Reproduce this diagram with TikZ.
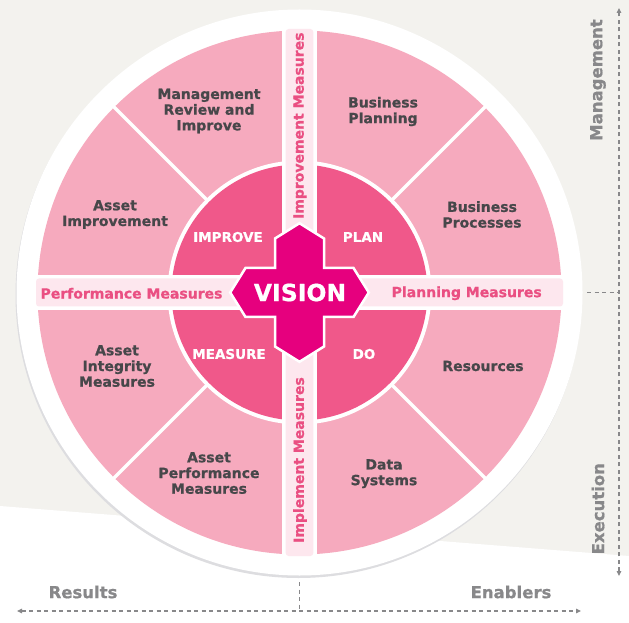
\documentclass[tikz,border=0pt]{standalone}
\usepackage{fontspec}
\setmainfont{DejaVu Sans}[BoldFont={DejaVu Sans Bold}, BoldFeatures={FakeBold=0.8}]
\usetikzlibrary{arrows.meta}
\definecolor{bggrey}{HTML}{F3F2EE}
\definecolor{shadowgrey}{HTML}{DDDDE0}
\definecolor{outerpink}{HTML}{F6AABE}
\definecolor{innerpink}{HTML}{F0588A}
\definecolor{crossmag}{HTML}{E6007E}
\definecolor{strippink}{HTML}{FDE7EE}
\definecolor{stripink}{HTML}{EA4F82}
\definecolor{darktext}{HTML}{47474A}
\definecolor{axisgrey}{HTML}{88888A}
\begin{document}
\begin{tikzpicture}[x=1pt,y=1pt,
  sector/.style={font=\bfseries\fontsize{14}{15.7}\selectfont, text=darktext, align=center, inner sep=0pt},
  quad/.style={font=\bfseries\fontsize{13.5}{15}\selectfont, text=white, inner sep=0pt},
  striptext/.style={font=\bfseries\fontsize{14}{16}\selectfont, text=stripink, inner sep=0pt},
  axislabel/.style={font=\bfseries\fontsize{16.5}{18}\selectfont, text=axisgrey, inner sep=0pt},
  dashline/.style={draw=axisgrey, line width=1.1pt, dash pattern=on 4pt off 3.5pt},
  tipboth/.style={{Triangle[length=5pt,width=4.5pt]}-{Triangle[length=5pt,width=4.5pt]}}
]
\useasboundingbox (0,0) rectangle (629,622);
\fill[bggrey] (0,0) rectangle (629,622);
\fill[white] (0,0) -- (629,0) -- (629,66) -- (0,116) -- cycle;
\coordinate (C) at (299.5,329.5);
% wheel
\fill[shadowgrey] ([shift={(-1,-2.5)}]C) circle (283);
\fill[white] (C) circle (283);
\fill[outerpink] (C) circle (262);
\foreach \a in {45,135,225,315}
  \draw[white, line width=3.5pt] ([shift={(\a:120)}]C) -- ([shift={(\a:266)}]C);
\fill[white] (C) circle (132);
\fill[innerpink] (C) circle (128);
\fill[white] ([shift={(-17.5,-266)}]C) rectangle ([shift={(17.5,266)}]C);
\fill[white] ([shift={(-266,-17.5)}]C) rectangle ([shift={(266,17.5)}]C);
\fill[strippink, rounded corners=3pt] ([shift={(-13.8,-263.5)}]C) rectangle ([shift={(13.8,263.5)}]C);
\fill[strippink, rounded corners=3pt] ([shift={(-263.5,-14)}]C) rectangle ([shift={(263.5,14)}]C);
% cross
\begin{scope}[shift={(C)}]
\filldraw[fill=crossmag, draw=white, line width=2.5pt, line join=miter]
  (0,69.3) -- (24.5,54) -- (24.5,24.5) -- (54,24.5) -- (69.3,0) -- (54,-24.5) -- (24.5,-24.5)
  -- (24.5,-54) -- (0,-69.3) -- (-24.5,-54) -- (-24.5,-24.5) -- (-54,-24.5) -- (-69.3,0)
  -- (-54,24.5) -- (-24.5,24.5) -- (-24.5,54) -- cycle;
\end{scope}
\node[font=\bfseries\fontsize{23.5}{26}\selectfont, text=white, inner sep=0pt] (vision) at (300,329.5) {VISION};
% quadrant labels
\node[quad] (improve) at (228,385) {IMPROVE};
\node[quad] (plan) at (363,385) {PLAN};
\node[quad] (measure) at (229,268) {MEASURE};
\node[quad] (do) at (364,268) {DO};
% sector labels
\node[sector] (mri) at (209,511) {Management\\Review and\\Improve};
\node[sector] (ai) at (115,407.5) {Asset\\Improvement};
\node[sector] (bpl) at (383,510.5) {Business\\Planning};
\node[sector] (bpr) at (482,407.5) {Business\\Processes};
\node[sector] (res) at (483,256) {Resources};
\node[sector] (ds) at (384,148.3) {Data\\Systems};
\node[sector] (aim) at (117,256) {Asset\\Integrity\\Measures};
\node[sector] (apm) at (209,149) {Asset\\Performance\\Measures};
% strip labels
\node[striptext] (perf) at (131.5,328.7) {Performance Measures};
\node[striptext] (plm) at (466.7,328.7) {Planning Measures};
\node[striptext, rotate=90] (imprm) at (300,496.3) {Improvement Measures};
\node[striptext, rotate=90] (implm) at (300,162) {Implement Measures};
% axes
\node[axislabel] (results) at (83,30) {Results};
\node[axislabel] (enablers) at (511,30) {Enablers};
\node[axislabel, rotate=90] (mgmt) at (598,542) {Management};
\node[axislabel, rotate=90] (exec) at (598,113.3) {Execution};
\coordinate (hl) at (17,11);
\coordinate (hr) at (581,11);
\coordinate (vt) at (619,614);
\coordinate (vb) at (619,46);
\coordinate (tk1) at (587,329.5);
\coordinate (tk2) at (619,329.5);
\coordinate (bt1) at (299.5,40);
\coordinate (bt2) at (299.5,11);
\draw[dashline, tipboth] (hl) -- (hr);
\draw[dashline, tipboth] (vb) -- (vt);
\draw[dashline] (tk1) -- (tk2);
\draw[dashline] (bt1) -- (bt2);
\end{tikzpicture}
\end{document}
